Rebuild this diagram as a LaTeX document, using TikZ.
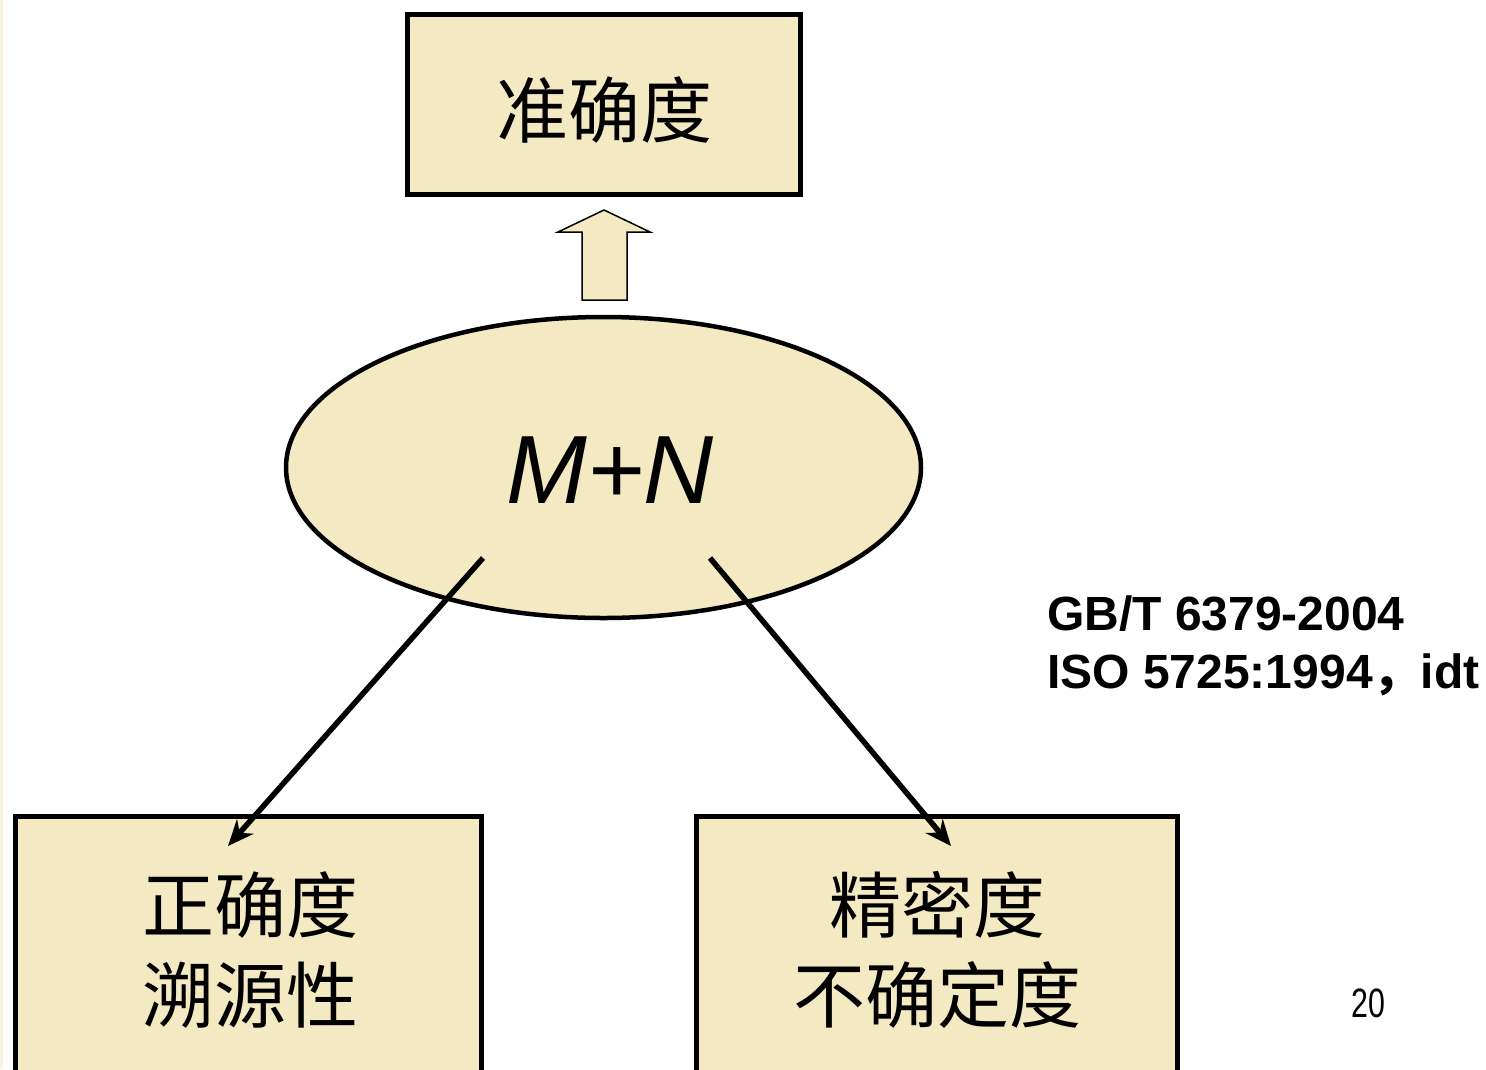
\documentclass[tikz,border=0pt]{standalone}
\usepackage{fontspec}
\setmainfont{Liberation Sans}
\newfontfamily\cjk{Noto Sans CJK SC}
\usetikzlibrary{arrows.meta}
\definecolor{beige}{RGB}{243,233,194}
\definecolor{stripe}{RGB}{248,243,222}
\tikzset{
  boxstyle/.style={draw=black, line width=5pt, fill=beige},
  cjktext/.style={font=\cjk\fontsize{72}{90}\selectfont, align=center, inner sep=0pt},
  conn/.style={line width=5.5pt, -{Stealth[length=26pt,width=22pt]}},
  stdtext/.style={anchor=base west, font=\bfseries\fontsize{48}{58}\selectfont, inner sep=0pt},
}
\begin{document}
\begin{tikzpicture}[x=1pt,y=-1pt]
\useasboundingbox (0,0) rectangle (1486,1069);
\clip (0,0) rectangle (1486,1069);
\fill[white] (0,0) rectangle (1486,1069);
\fill[stripe] (0,0) rectangle (2.5,1069);
% top box
\draw[boxstyle] (407.5,14.5) rectangle (800.5,194.5);
\node[cjktext] (top) at (604,110) {准确度};
% hollow arrow
\draw[line width=1.5pt, fill=beige, line join=miter]
  (582,300) -- (582,232) -- (558,232) -- (604,210) -- (650,232) -- (627,232) -- (627,300) -- cycle;
% ellipse
\draw[line width=4.5pt, fill=beige] (603.5,467.5) ellipse [x radius=317.5, y radius=150.5];
\node[font=\fontsize{97}{110}\selectfont\itshape, inner sep=0pt] (mn) at (610,470) {M+N};
% bottom boxes
\draw[boxstyle] (15.5,816.5) rectangle (481.5,1090);
\draw[boxstyle] (696.5,816.5) rectangle (1177.5,1090);
\node[cjktext] (left) at (250,950) {正确度\\溯源性};
\node[cjktext] (right) at (937,950) {精密度\\不确定度};
% connectors
\coordinate (ls) at (483,558);
\coordinate (le) at (228,846);
\coordinate (rs) at (710,558);
\coordinate (re) at (951,846);
\draw[conn] (ls) -- (le);
\draw[conn] (rs) -- (re);
% standard text
\node[stdtext] (gb) at (1047,630) {GB/T 6379-2004};
\node[stdtext] (iso) at (1047,688) {ISO 5725:1994{\cjk\bfseries ，}idt};
% page number
\node[anchor=base, font=\fontsize{41}{48}\selectfont, inner sep=0pt, xscale=0.74] (pg) at (1368,1017) {20};
\end{tikzpicture}
\end{document}
